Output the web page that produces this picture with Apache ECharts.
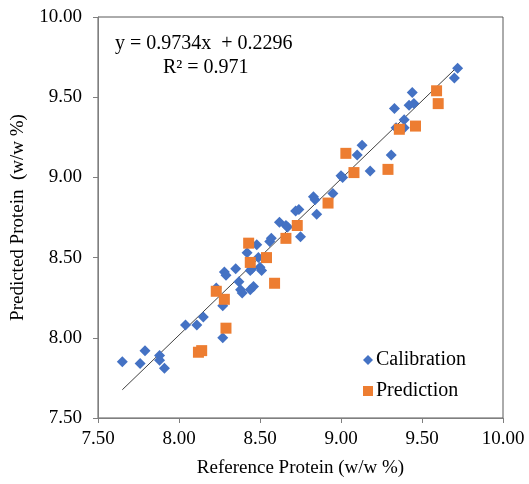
<!DOCTYPE html>
<html><head><meta charset="utf-8">
<script src="https://cdn.jsdelivr.net/npm/echarts@6/dist/echarts.min.js"></script>
<style>html,body{margin:0;padding:0;background:#fff}#c{width:529px;height:484px}</style>
</head><body><div id="c"></div>
<script>
const calX = [7.65,7.76,7.79,7.88,7.88,7.91,8.04,8.11,8.15,8.23,8.27,8.27,8.28,8.29,8.35,8.37,8.38,8.39,8.42,8.44,8.45,8.44,8.46,8.48,8.49,8.50,8.51,8.56,8.57,8.62,8.66,8.67,8.72,8.74,8.75,8.83,8.84,8.85,8.95,9.00,9.01,9.10,9.13,9.18,9.31,9.33,9.34,9.39,9.39,9.42,9.45,9.44,9.70,9.72];
const calY = [7.85,7.84,7.92,7.89,7.86,7.81,8.08,8.08,8.13,8.31,8.20,8.00,8.41,8.39,8.43,8.35,8.30,8.28,8.53,8.42,8.43,8.30,8.32,8.58,8.50,8.44,8.42,8.60,8.62,8.72,8.70,8.69,8.79,8.80,8.63,8.88,8.86,8.77,8.90,9.01,9.00,9.14,9.20,9.04,9.14,9.43,9.31,9.31,9.36,9.45,9.46,9.53,9.62,9.68];
const predX = [8.12,8.14,8.23,8.28,8.29,8.43,8.44,8.54,8.59,8.66,8.73,8.92,9.03,9.08,9.29,9.36,9.46,9.59,9.60];
const predY = [7.91,7.92,8.29,8.24,8.06,8.59,8.47,8.50,8.34,8.62,8.70,8.84,9.15,9.03,9.05,9.30,9.32,9.54,9.46];
const slope = 0.9734, intercept = 0.2296, r2 = 0.971;
const axisTicks = [7.50, 8.00, 8.50, 9.00, 9.50, 10.00];

const font = '"Liberation Serif","Times New Roman",serif';
const xMin = Math.min(...calX), xMax = Math.max(...calX);
const trend = [[xMin, slope*xMin+intercept],[xMax, slope*xMax+intercept]];
const chart = echarts.init(document.getElementById('c'));
chart.setOption({
  animation:false,
  backgroundColor:'#fff',
  textStyle:{fontFamily:font},
  grid:{left:98,right:26,top:17,bottom:66,show:true,borderColor:'#595959',borderWidth:1},
  legend:{
    orient:'vertical',left:358,top:345,itemGap:11,itemWidth:10,itemHeight:10,
    textStyle:{fontFamily:font,fontSize:20,color:'#000',padding:[0,0,0,-2]},
    data:[{name:'Calibration',icon:'diamond'},{name:'Prediction',icon:'rect'}]
  },
  xAxis:{
    type:'value',min:axisTicks[0],max:axisTicks[axisTicks.length-1],interval:0.5,
    name:'Reference Protein (w/w %)',nameLocation:'middle',nameGap:41,
    nameTextStyle:{fontFamily:font,fontSize:19,color:'#000'},
    axisLine:{show:true,lineStyle:{color:'#7f7f7f',width:1}},
    axisTick:{show:true,length:5,lineStyle:{color:'#7f7f7f'}},
    splitLine:{show:false},
    axisLabel:{fontFamily:font,fontSize:19,color:'#000',margin:12,formatter:v=>v.toFixed(2)}
  },
  yAxis:{
    type:'value',min:axisTicks[0],max:axisTicks[axisTicks.length-1],interval:0.5,
    name:'Predicted Protein  (w/w %)',nameLocation:'middle',nameGap:70,
    nameTextStyle:{fontFamily:font,fontSize:19,color:'#000'},
    axisLine:{show:true,lineStyle:{color:'#7f7f7f',width:1}},
    axisTick:{show:true,length:5,lineStyle:{color:'#7f7f7f'}},
    splitLine:{show:false},
    axisLabel:{fontFamily:font,fontSize:19,color:'#000',margin:16,formatter:v=>v.toFixed(2)}
  },
  graphic:[
    {type:'text',left:115,top:34,style:{text:'y = 0.9734x  + 0.2296',font:'20px '+font,fill:'#000'}},
    {type:'text',left:163,top:58,style:{text:'R² = '+r2.toFixed(3),font:'20px '+font,fill:'#000'}}
  ],
  series:[
    {name:'Trend',type:'line',data:trend,symbol:'none',silent:true,
     lineStyle:{color:'#404040',width:1},z:1},
    {name:'Calibration',type:'scatter',symbol:'diamond',symbolSize:11,
     itemStyle:{color:'#4472C4',opacity:1},data:calX.map((x,i)=>[x,calY[i]]),z:2},
    {name:'Prediction',type:'scatter',symbol:'rect',symbolSize:11,
     itemStyle:{color:'#ED7D31',opacity:1},data:predX.map((x,i)=>[x,predY[i]]),z:3}
  ]
});
</script></body></html>
